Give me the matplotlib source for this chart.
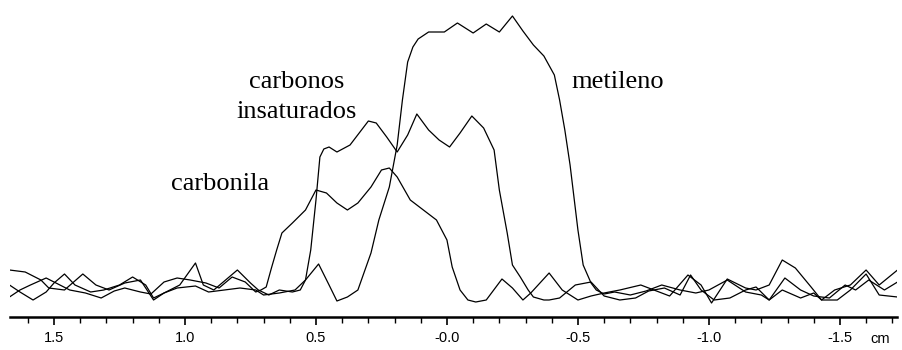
import matplotlib
matplotlib.use("Agg")
import matplotlib.pyplot as plt
from matplotlib.ticker import MultipleLocator

# posicao (cm) e altura do sinal (unidades arbitrarias)
metileno_x = [1.67, 1.63, 1.58, 1.53, 1.50, 1.46, 1.42, 1.36, 1.31, 1.25, 1.20, 1.15, 1.12, 1.08, 1.03,
              0.96, 0.91, 0.85, 0.79, 0.73, 0.70, 0.64, 0.58, 0.54, 0.49, 0.45, 0.42, 0.38, 0.34, 0.29,
              0.26, 0.22, 0.19, 0.17, 0.15, 0.13, 0.11, 0.07, 0.01, -0.04, -0.10, -0.15, -0.20, -0.25, -0.29,
              -0.33, -0.37, -0.41, -0.43, -0.45, -0.47, -0.50, -0.52, -0.55, -0.57, -0.60, -0.64, -0.70,
              -0.76, -0.82, -0.89, -0.95, -1.00, -1.07, -1.14, -1.20, -1.23, -1.28, -1.35, -1.40, -1.43,
              -1.48, -1.54, -1.60, -1.65, -1.72]
metileno_y = [32, 25, 17, 25, 34, 43, 32, 25, 27, 32, 40, 32, 19, 24, 29,
              31, 25, 27, 29, 27, 22, 24, 27, 37, 53, 32, 16, 20, 27, 64,
              97, 130, 172, 217, 255, 270, 278, 285, 285, 294, 284, 293, 285, 301, 286,
              272, 261, 242, 217, 187, 152, 87, 52, 34, 27, 23, 25, 22,
              26, 32, 27, 24, 27, 37, 25, 22, 17, 27, 19, 24, 17,
              27, 32, 47, 32, 47]

insat_x = [1.67, 1.61, 1.55, 1.52, 1.46, 1.39, 1.34, 1.29, 1.23, 1.17, 1.12, 1.08, 1.02, 0.96, 0.93,
           0.89, 0.80, 0.75, 0.72, 0.68, 0.64, 0.59, 0.56, 0.54, 0.52, 0.50, 0.485, 0.47, 0.45, 0.42, 0.37,
           0.30, 0.27, 0.23, 0.19, 0.15, 0.115, 0.07, 0.03, -0.01, -0.05, -0.095, -0.14, -0.18, -0.20,
           -0.23, -0.25, -0.28, -0.31, -0.33, -0.37, -0.39, -0.43, -0.49, -0.55, -0.60, -0.66, -0.72,
           -0.77, -0.83, -0.89, -0.93, -0.97, -1.02, -1.08, -1.14, -1.18, -1.23, -1.29, -1.35, -1.40,
           -1.46, -1.52, -1.56, -1.61, -1.67, -1.72]
insat_y = [47, 45, 37, 29, 27, 43, 32, 27, 34, 37, 17, 24, 32, 54, 32,
           27, 47, 34, 27, 22, 27, 25, 27, 37, 67, 117, 160, 168, 170, 165, 172,
           196, 194, 180, 165, 182, 203, 187, 177, 170, 184, 201, 189, 167, 127,
           84, 52, 40, 27, 20, 17, 17, 19, 32, 35, 21, 17, 19,
           26, 29, 22, 42, 27, 17, 19, 27, 30, 17, 39, 27, 21,
           19, 32, 27, 37, 27, 35]

carbonila_x = [1.67, 1.63, 1.59, 1.53, 1.50, 1.44, 1.38, 1.32, 1.27, 1.23, 1.17, 1.13, 1.08, 1.03, 0.98,
               0.92, 0.87, 0.82, 0.77, 0.73, 0.71, 0.69, 0.67, 0.65, 0.63, 0.59, 0.54, 0.50, 0.46, 0.42,
               0.38, 0.34, 0.29, 0.25, 0.22, 0.19, 0.14, 0.09, 0.04, 0.00, -0.02, -0.05, -0.08, -0.11,
               -0.15, -0.21, -0.25, -0.29, -0.32, -0.39, -0.44, -0.50, -0.55, -0.60, -0.66, -0.74, -0.79,
               -0.85, -0.92, -0.97, -1.01, -1.07, -1.14, -1.18, -1.23, -1.28, -1.33, -1.39, -1.43, -1.49,
               -1.54, -1.60, -1.65, -1.72]
carbonila_y = [20, 27, 32, 39, 35, 27, 24, 19, 26, 29, 25, 23, 35, 39, 37,
               34, 29, 40, 35, 25, 27, 30, 49, 67, 84, 94, 107, 127, 124, 114,
               107, 114, 130, 147, 149, 140, 117, 107, 97, 77, 50, 27, 17, 15,
               17, 38, 29, 17, 24, 44, 27, 17, 21, 24, 27, 32, 27,
               21, 42, 32, 14, 38, 29, 27, 32, 57, 49, 30, 17, 17,
               27, 43, 22, 20]

ticks = [1.5, 1.0, 0.5, 0.0, -0.5, -1.0, -1.5]
tick_labels = ["1.5", "1.0", "0.5", "-0.0", "-0.5", "-1.0", "-1.5"]

fig = plt.figure(figsize=(9.02, 3.5), dpi=100)
ax = fig.add_axes([10 / 902, 33 / 350, 887 / 902, 317 / 350])

for xs, ys in [(metileno_x, metileno_y), (insat_x, insat_y), (carbonila_x, carbonila_y)]:
    ax.plot(xs, ys, color="black", lw=0.9)

ax.set_xlim(1.668, -1.718)
ax.set_ylim(0, 317)

for s in ["top", "right", "left"]:
    ax.spines[s].set_visible(False)
ax.spines["bottom"].set_linewidth(1.8)
ax.set_yticks([])
ax.set_xticks(ticks)
ax.set_xticklabels(tick_labels, fontfamily="Liberation Sans", fontsize=10.5)
ax.xaxis.set_minor_locator(MultipleLocator(0.1))
ax.tick_params(axis="x", which="major", length=6, width=1.2, pad=4)
ax.tick_params(axis="x", which="minor", length=4, width=1.0)

fig.text(880 / 902, 1 - 339 / 350, "cm", fontfamily="Liberation Sans", fontsize=10.5,
         ha="center", va="center")

serif = dict(fontfamily="Liberation Serif", fontsize=19, ha="center", va="center")
ax.text(0.573, 235, "carbonos", **serif)
ax.text(0.575, 205, "insaturados", **serif)
ax.text(0.866, 133, "carbonila", **serif)
ax.text(-0.653, 235, "metileno", **serif)

fig.savefig("out.png", dpi=100)
